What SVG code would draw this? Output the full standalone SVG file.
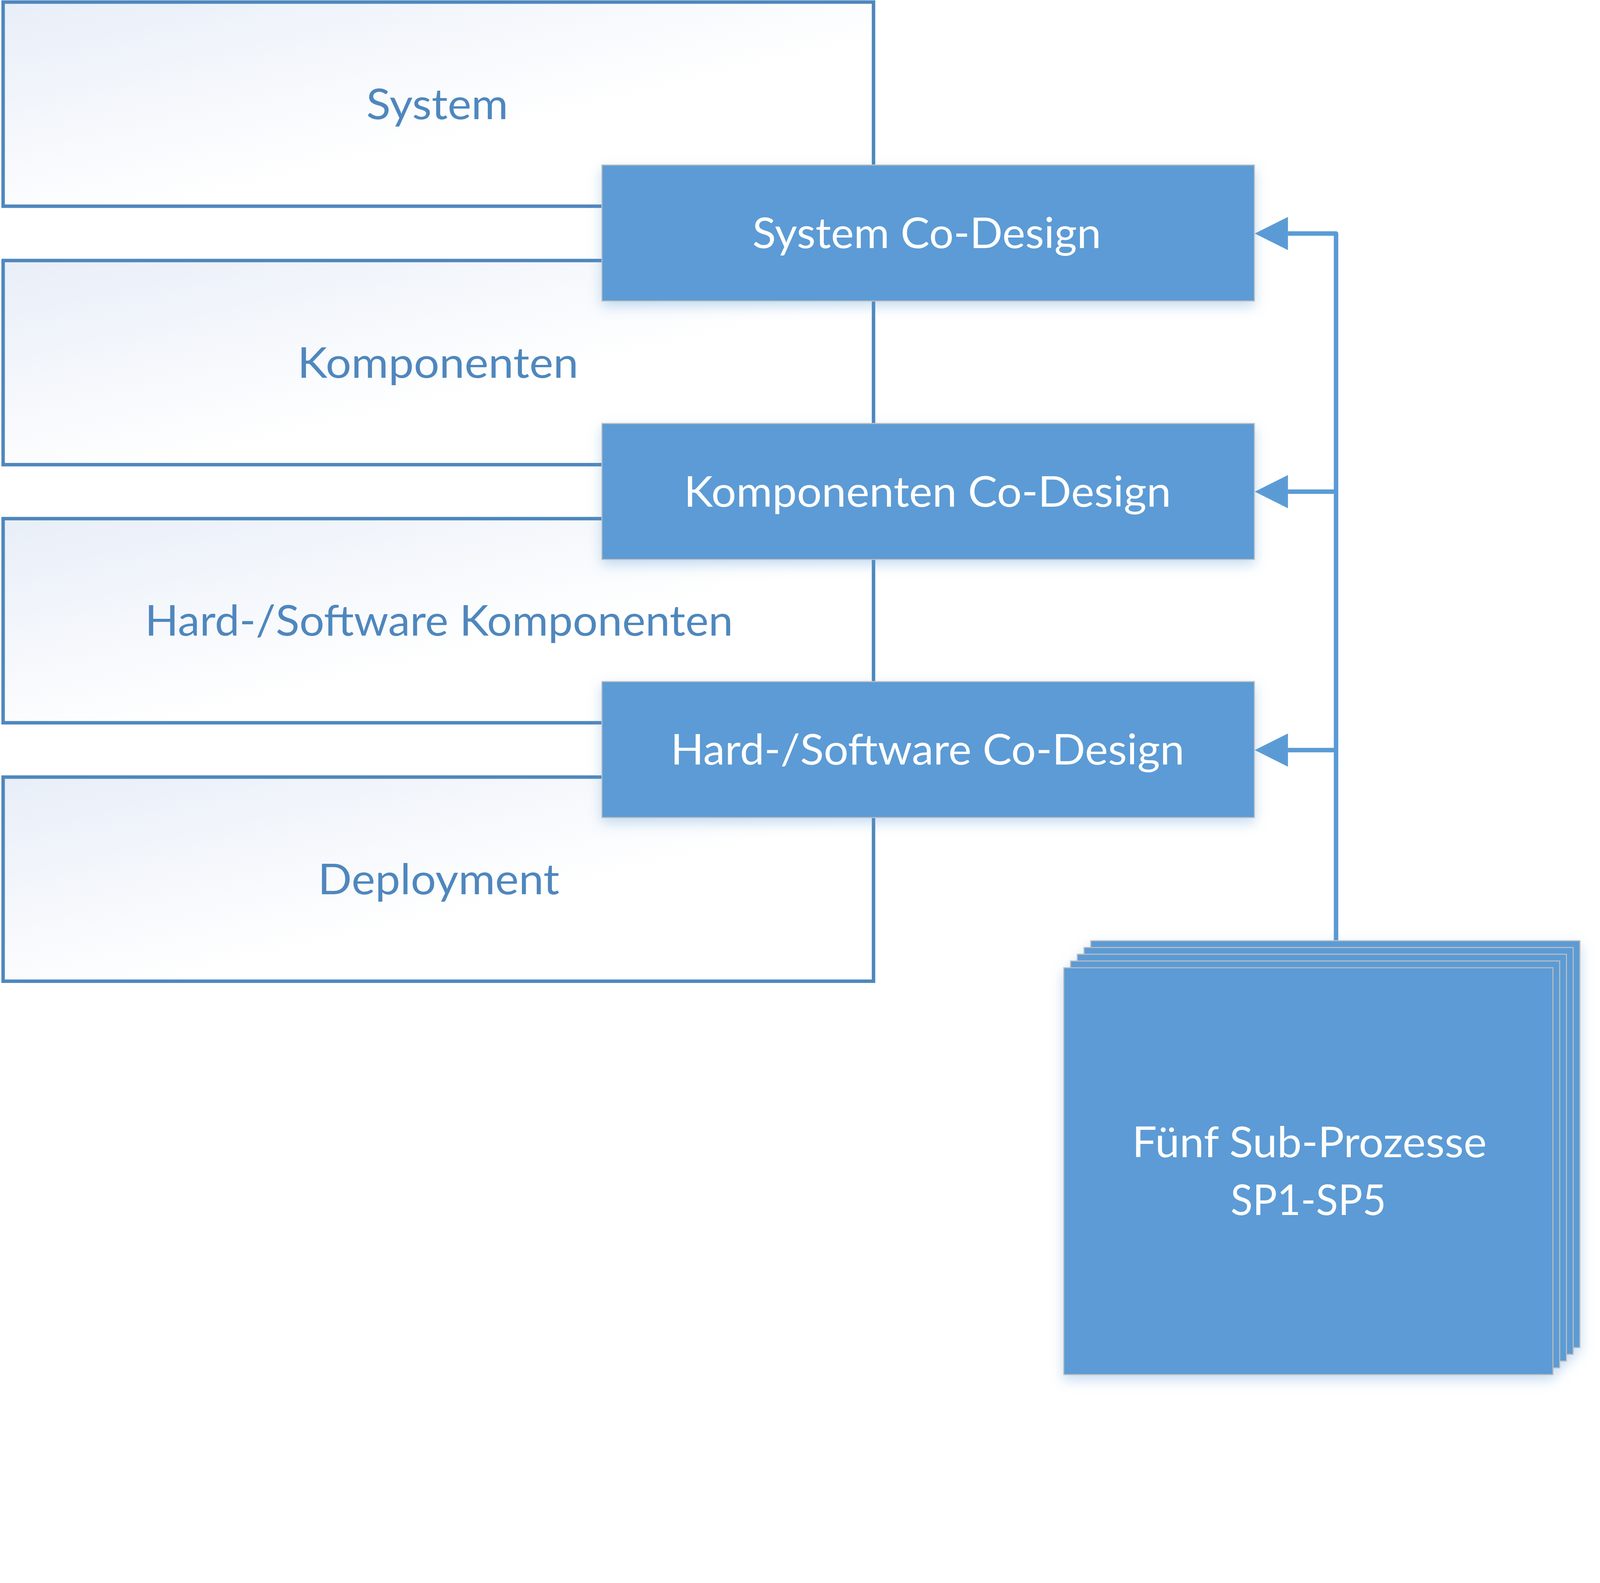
<svg xmlns="http://www.w3.org/2000/svg" width="4625" height="4052" viewBox="0 0 4625 4052" preserveAspectRatio="xMinYMin meet">
<style>
svg{width:100vw;height:100vh;max-width:4625px;max-height:4052px}
.lvl{stroke:#4F87BD;stroke-width:10;fill:url(#lg)}
.lt{font-family:Lato,"Open Sans","Liberation Sans",sans-serif;font-size:123px;fill:#4F87BD;text-anchor:middle}
.cd{fill:#5B9BD5;stroke:#BFBFBF;stroke-width:3}
.wt{font-family:Lato,"Open Sans","Liberation Sans",sans-serif;font-size:123px;fill:#FFFFFF;text-anchor:middle}
.con{stroke:#5B9BD5;stroke-width:13;fill:none;stroke-linejoin:round}
.ah{fill:#5B9BD5}
</style>
<defs>
<linearGradient id="lg" x1="0" y1="0" x2="1" y2="1">
<stop offset="0" stop-color="#E8EEF8"/>
<stop offset="0.6" stop-color="#FFFFFF"/>
<stop offset="1" stop-color="#FFFFFF"/>
</linearGradient>
<filter id="sh" x="-10%" y="-10%" width="125%" height="130%">
<feDropShadow dx="0" dy="14" stdDeviation="18" flood-color="#5B9BD5" flood-opacity="0.35"/>
</filter>
</defs>
<rect width="4625" height="4052" fill="#FFFFFF"/>

<g id="level-system"><rect class="lvl" x="9" y="6" width="2516" height="590"/><text class="lt" x="1264" y="344" textLength="410" lengthAdjust="spacingAndGlyphs">System</text></g>
<g id="level-komponenten"><rect class="lvl" x="9" y="753" width="2516" height="590"/><text class="lt" x="1266" y="1092" textLength="812" lengthAdjust="spacingAndGlyphs">Komponenten</text></g>
<g id="level-hwsw"><rect class="lvl" x="9" y="1499" width="2516" height="590"/><text class="lt" x="1269" y="1837" textLength="1700" lengthAdjust="spacingAndGlyphs">Hard-/Software Komponenten</text></g>
<g id="level-deployment"><rect class="lvl" x="9" y="2246" width="2516" height="590"/><text class="lt" x="1268" y="2585" textLength="698" lengthAdjust="spacingAndGlyphs">Deployment</text></g>

<g id="cd-system" filter="url(#sh)"><rect class="cd" x="1740" y="477" width="1886" height="393"/><text class="wt" x="2679" y="717" textLength="1008" lengthAdjust="spacingAndGlyphs">System Co-Design</text></g>
<g id="cd-komponenten" filter="url(#sh)"><rect class="cd" x="1740" y="1224" width="1886" height="393"/><text class="wt" x="2681" y="1464" textLength="1408" lengthAdjust="spacingAndGlyphs">Komponenten Co-Design</text></g>
<g id="cd-hwsw" filter="url(#sh)"><rect class="cd" x="1740" y="1970" width="1886" height="393"/><text class="wt" x="2681" y="2210" textLength="1485" lengthAdjust="spacingAndGlyphs">Hard-/Software Co-Design</text></g>

<g id="connectors">
<path class="con" d="M3723,675 H3862 V2720"/>
<path class="con" d="M3723,1421 H3862"/>
<path class="con" d="M3723,2168 H3862"/>
<polygon class="ah" points="3627,675 3723,627 3723,723"/>
<polygon class="ah" points="3627,1421 3723,1373 3723,1469"/>
<polygon class="ah" points="3627,2168 3723,2120 3723,2216"/>
</g>

<g id="subprozesse" filter="url(#sh)">
<rect class="cd" x="3153" y="2719" width="1414" height="1176"/>
<rect class="cd" x="3133.5" y="2738.5" width="1414" height="1176"/>
<rect class="cd" x="3114" y="2758" width="1414" height="1176"/>
<rect class="cd" x="3094.5" y="2777.5" width="1414" height="1176"/>
<rect class="cd" x="3075" y="2797" width="1414" height="1176"/>
<text class="wt" x="3785" y="3344" textLength="1025" lengthAdjust="spacingAndGlyphs">Fünf Sub-Prozesse</text>
<text class="wt" x="3782" y="3512" textLength="450" lengthAdjust="spacingAndGlyphs">SP1-SP5</text>
</g>
</svg>
